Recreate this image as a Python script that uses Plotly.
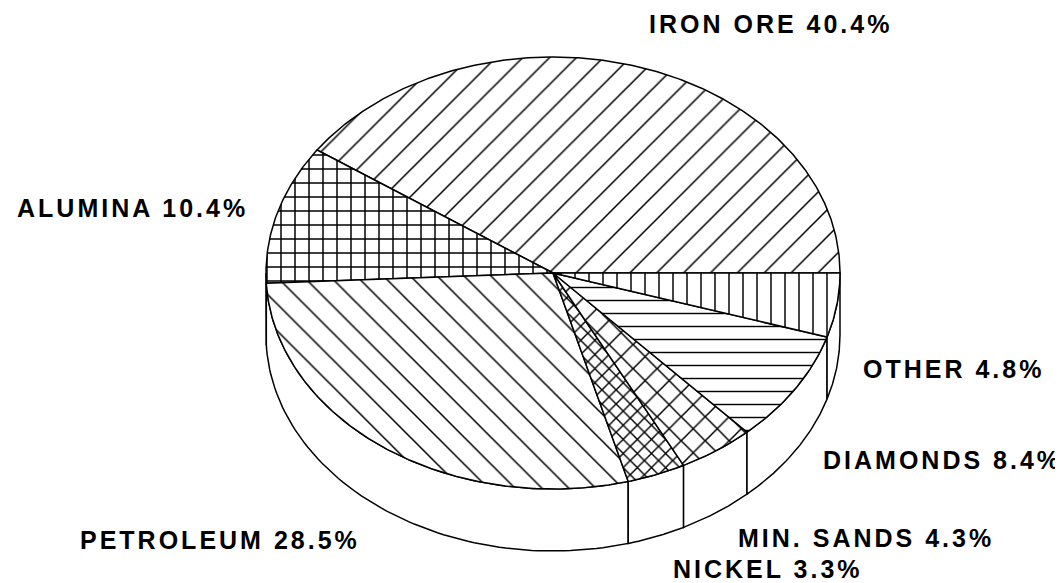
import numpy as np
import plotly.graph_objects as go

# ---- data ----
categories = ["IRON ORE", "ALUMINA", "PETROLEUM", "NICKEL", "MIN. SANDS", "DIAMONDS", "OTHER"]
shares = [40.4, 10.4, 28.5, 3.3, 4.3, 8.4, 4.8]

# ---- styles ----
pattern_shapes = ["/", "+", "\\", "x", "x", "-", "|"]
pattern_sizes = [19, 14, 19, 10, 17, 13, 14]
pattern_solidity = [0.08, 0.2, 0.08, 0.27, 0.17, 0.11, 0.105]

# label placement (layout)
label_pos = {
    "IRON ORE": (762, 16),
    "ALUMINA": (124, 200),
    "PETROLEUM": (212, 532),
    "NICKEL": (760, 561),
    "MIN. SANDS": (858, 530),
    "DIAMONDS": (934, 452),
    "OTHER": (945, 361),
}

W, H = 1063, 583
CX, CY = 545, 265      # centre of the top face
RA, RB = 287, 216      # ellipse radii
DEPTH = 62             # thickness of the disc
LW = 1.5

def pt(theta_deg, dy=0.0):
    t = np.radians(theta_deg)
    return CX + RA * np.cos(t), CY - RB * np.sin(t) + dy

total = float(sum(shares))
bounds = np.concatenate([[0.0], np.cumsum(shares) / total * 360.0])

fig = go.Figure()

# side walls (front half only)
for i, cat in enumerate(categories):
    a0, a1 = bounds[i], bounds[i + 1]
    s0, s1 = max(a0, 180.0), min(a1, 360.0)
    if s1 <= s0:
        continue
    th = np.linspace(s0, s1, 80)
    xt, yt = pt(th)
    xb, yb = pt(th[::-1], DEPTH)
    xs = np.concatenate([xt, xb, [xt[0]]])
    ys = np.concatenate([yt, yb, [yt[0]]])
    fig.add_trace(go.Scatter(x=xs, y=ys, mode="lines", fill="toself",
                             fillcolor="white", line=dict(color="black", width=LW),
                             hoverinfo="skip", showlegend=False))

# top face slices
for i, cat in enumerate(categories):
    a0, a1 = bounds[i], bounds[i + 1]
    n = max(int((a1 - a0) * 2), 8)
    th = np.linspace(a0, a1, n)
    xa, ya = pt(th)
    xs = np.concatenate([[CX], xa, [CX]])
    ys = np.concatenate([[CY], ya, [CY]])
    fig.add_trace(go.Scatter(
        x=xs, y=ys, mode="lines", fill="toself", fillcolor="white",
        fillpattern=dict(shape=pattern_shapes[i], size=pattern_sizes[i],
                         solidity=pattern_solidity[i], fgcolor="black",
                         bgcolor="white", fillmode="replace"),
        line=dict(color="black", width=LW),
        name=cat, hoverinfo="name", showlegend=False))

# labels
for cat, val in zip(categories, shares):
    x, y = label_pos[cat]
    fig.add_annotation(
        x=x, y=y, xref="x", yref="y", showarrow=False,
        text=f'<b><span style="letter-spacing:3px">{cat} {val}%</span></b>',
        font=dict(family="Liberation Sans, Arial, sans-serif", size=25, color="black"),
        xanchor="center", yanchor="middle")

fig.update_layout(
    width=W, height=H, margin=dict(l=0, r=0, t=0, b=0),
    paper_bgcolor="white", plot_bgcolor="white",
    xaxis=dict(range=[0, W], visible=False, fixedrange=True),
    yaxis=dict(range=[H, 0], visible=False, fixedrange=True),
)

fig.write_html("out.html")
